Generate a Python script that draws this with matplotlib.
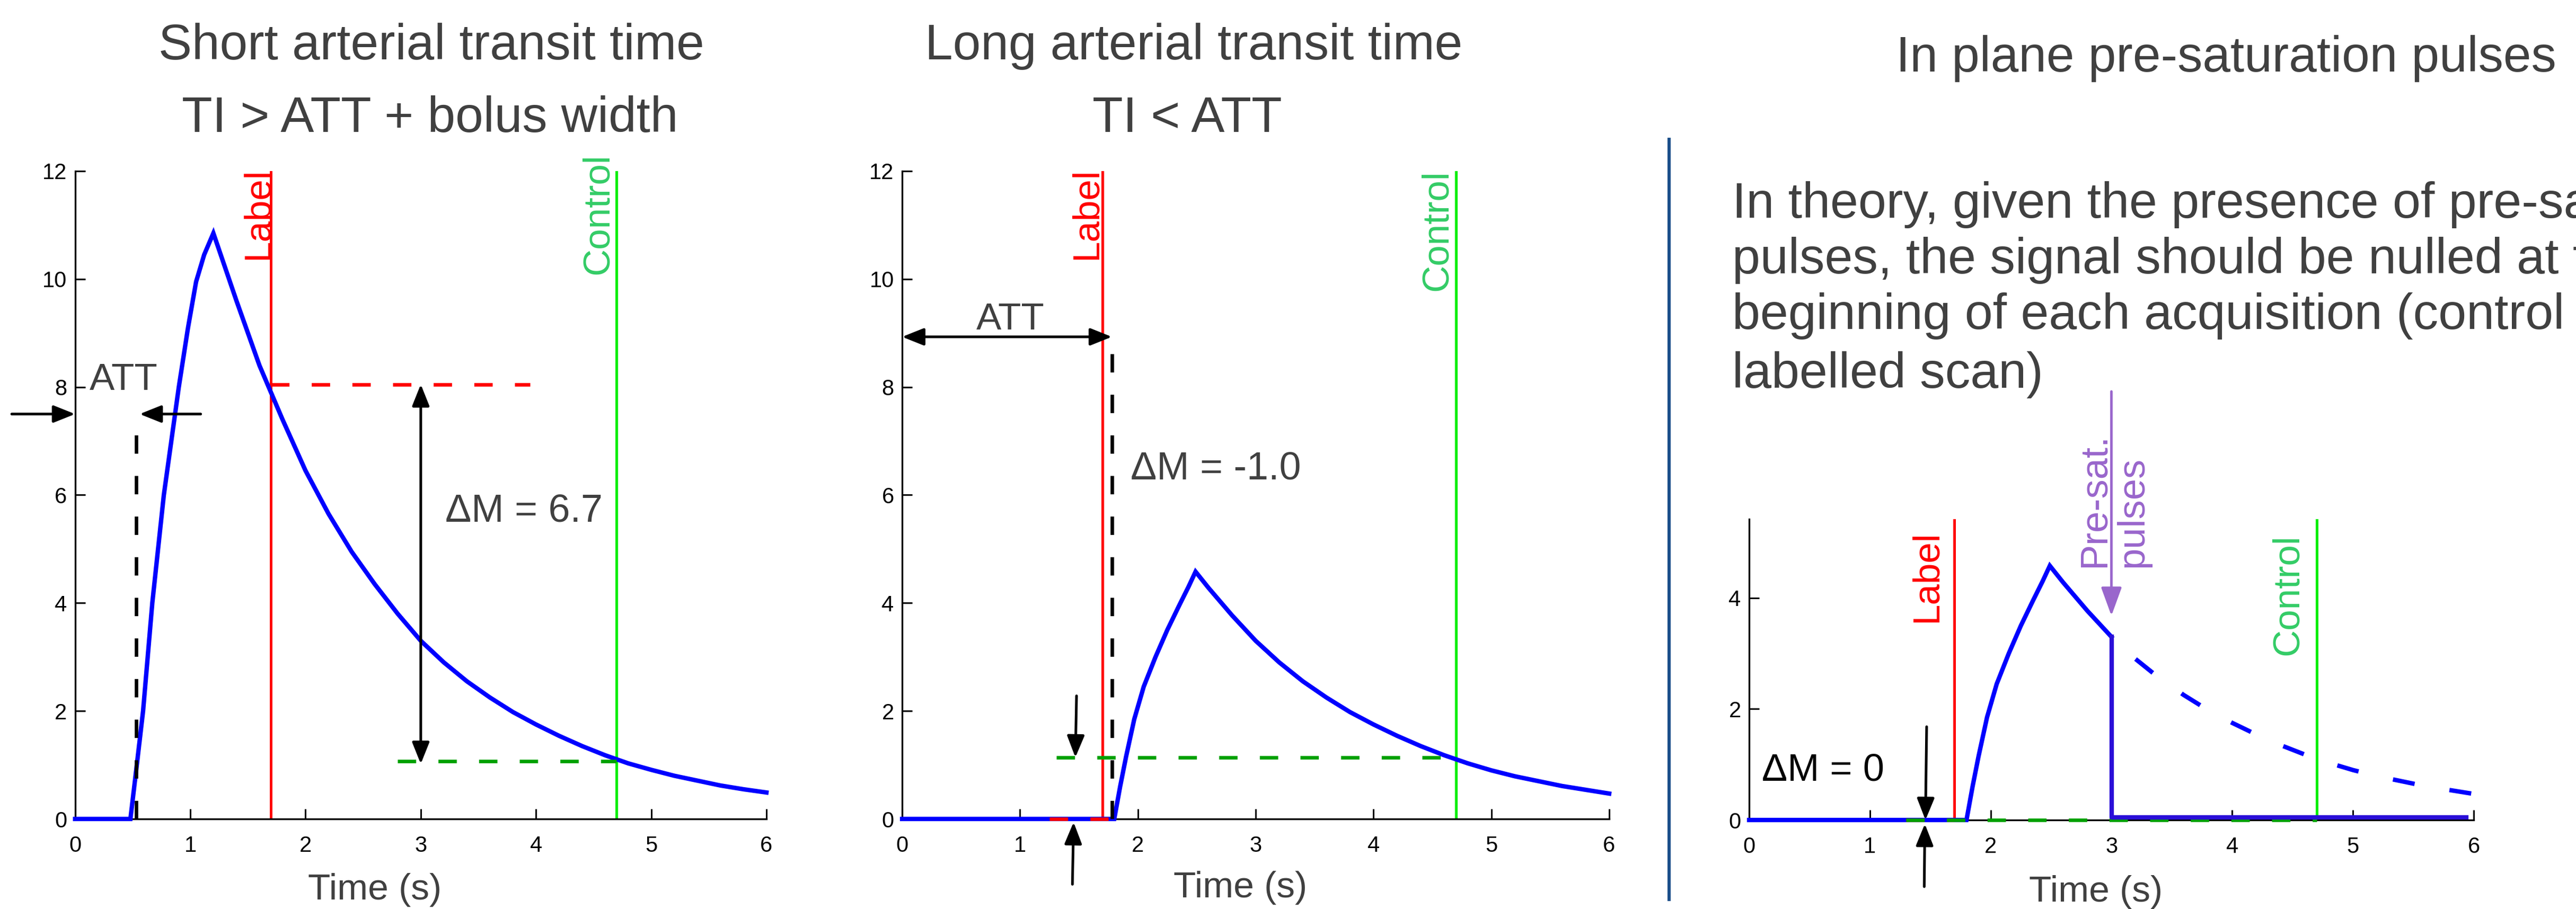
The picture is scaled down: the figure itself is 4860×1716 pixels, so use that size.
import matplotlib
matplotlib.use("Agg")
import matplotlib.pyplot as plt
from matplotlib.lines import Line2D

plt.rcParams['font.family'] = ['Liberation Sans', 'DejaVu Sans']

# ---------------- data ----------------
# Panel 1: short arterial transit time
t_short = [0, 0.48, 0.53, 0.59, 0.67, 0.77, 0.90, 0.98, 1.05, 1.12, 1.20,
           1.4, 1.6, 1.8, 2.0, 2.2, 2.4, 2.6, 2.8, 3.0, 3.2, 3.4, 3.6, 3.8,
           4.0, 4.2, 4.4, 4.6, 4.8, 5.0, 5.2, 5.4, 5.6, 5.8, 6.0]
s_short = [0, 0, 0.9, 2.0, 4.0, 6.0, 8.0, 9.1, 9.95, 10.45, 10.85,
           9.6, 8.4, 7.4, 6.45, 5.65, 4.95, 4.35, 3.8, 3.3, 2.9, 2.55, 2.25, 1.98,
           1.75, 1.54, 1.35, 1.18, 1.03, 0.91, 0.80, 0.71, 0.62, 0.55, 0.49]

# Panel 2: long arterial transit time
t_long = [0, 1.80, 1.85, 1.90, 1.97, 2.05, 2.15, 2.25, 2.35, 2.43, 2.49,
          2.6, 2.8, 3.0, 3.2, 3.4, 3.6, 3.8, 4.0, 4.2, 4.4, 4.6, 4.8,
          5.0, 5.2, 5.4, 5.6, 5.8, 6.0]
s_long = [0, 0, 0.6, 1.15, 1.85, 2.45, 3.0, 3.5, 3.95, 4.3, 4.58,
          4.28, 3.77, 3.3, 2.9, 2.55, 2.25, 1.98, 1.75, 1.54, 1.35, 1.18, 1.03,
          0.9, 0.79, 0.7, 0.61, 0.54, 0.47]

# Panel 3: with in-plane pre-saturation pulses
t_sat = [0, 1.80, 1.85, 1.90, 1.97, 2.05, 2.15, 2.25, 2.35, 2.43, 2.49, 2.6, 2.8, 3.0]
s_sat = [0, 0, 0.6, 1.15, 1.85, 2.45, 3.0, 3.5, 3.95, 4.3, 4.58, 4.28, 3.77, 3.3]
t_nulled = [3.0, 3.0, 5.94]
s_nulled = [3.3, 0.05, 0.05]
t_unsat = [3.2, 3.4, 3.6, 3.8, 4.0, 4.2, 4.4, 4.6, 4.8, 5.0, 5.2, 5.4, 5.6, 5.8, 6.0]
s_unsat = [2.9, 2.55, 2.25, 1.98, 1.75, 1.54, 1.35, 1.18, 1.03, 0.9, 0.79, 0.7, 0.61, 0.54, 0.47]

label_t = 1.7
control_t = 4.7
presat_t = 3.0
att_short = 0.53
att_long = 1.78

p1_label_level = 8.05
p1_control_level = 1.07
p1_label_dash_x = [1.7, 3.95]
p1_control_dash_x = [2.8, 4.7]
p2_control_level = 1.14
p2_control_dash_x = [1.31, 4.65]
p2_label_dash_x = [1.25, 1.75]
p3_control_dash_x = [1.3, 4.7]
p3_label_dash_x = [1.3, 1.7]

x_ticks = [0, 1, 2, 3, 4, 5, 6]
y_ticks_big = [0, 2, 4, 6, 8, 10, 12]
y_ticks_small = [0, 2, 4]

titles_left = ["Short arterial transit time", "TI > ATT + bolus width"]
titles_mid = ["Long arterial transit time", "TI < ATT"]
title_right = "In plane pre-saturation pulses"
paragraph = ["In theory, given the presence of pre-saturation",
             "pulses, the signal should be nulled at the",
             "beginning of each acquisition (control and",
             "labelled scan)"]

# ---------------- styling ----------------
W, H = 4860, 1716
GRAY = '#404040'
BLUE = '#0000FF'
RED = '#FF0000'
GREEN_LINE = '#00EE00'
GREEN_TEXT = '#33CC66'
GREEN_DASH = '#00A000'
PURPLE = '#9966CC'
DASH = (0, (5.2, 6.3))
DLW = 4.8
BLW = 6.0
TICKFONT = ['Liberation Sans Narrow', 'Liberation Sans']


def px_axes(l, r, t, b):
    return [l / W, 1 - b / H, (r - l) / W, (b - t) / H]


fig = plt.figure(figsize=(W / 100, H / 100), dpi=100)
ax1 = fig.add_axes(px_axes(141.7, 1446, 323, 1546))
ax2 = fig.add_axes(px_axes(1702, 3036, 323, 1546))
ax3 = fig.add_axes(px_axes(3300, 4667, 980, 1548))


def style(ax, ylim, yticks, xlabel_x, xlabel_y):
    ax.set_xlim(0, 6)
    ax.set_ylim(*ylim)
    ax.set_xticks(x_ticks)
    ax.set_yticks(yticks)
    for s in ['top', 'right']:
        ax.spines[s].set_visible(False)
    for s in ['left', 'bottom']:
        ax.spines[s].set_linewidth(2.4)
    ax.tick_params(direction='in', length=14, width=2.2, labelsize=30)
    ax.tick_params(axis='x', pad=22)
    ax.tick_params(axis='y', pad=11)
    for lab in ax.get_xticklabels() + ax.get_yticklabels():
        lab.set_fontfamily(TICKFONT)
    ax.set_xlabel('Time (s)', fontsize=50, color=GRAY)
    ax.xaxis.label.set_va('baseline')
    ax.xaxis.set_label_coords(xlabel_x / 6, xlabel_y)


style(ax1, (0, 12), y_ticks_big, 2.6, -0.1243)
style(ax2, (0, 12), y_ticks_big, 2.87, -0.121)
style(ax3, (0, 5.42), y_ticks_small, 2.87, -0.271)

arrow1 = dict(arrowstyle='-|>,head_length=0.5,head_width=0.2', mutation_scale=50,
              color='black', lw=3.6, shrinkA=0, shrinkB=0)
arrow2 = dict(arrowstyle='<|-|>,head_length=0.5,head_width=0.2', mutation_scale=50,
              color='black', lw=3.6, shrinkA=0, shrinkB=0)

# ---------------- panel 1 ----------------
ax = ax1
ax.axvline(label_t, color=RED, lw=3.6, zorder=2)
ax.axvline(control_t, color=GREEN_LINE, lw=3.6, zorder=2)
ax.plot(t_short, s_short, color=BLUE, lw=BLW, zorder=3, clip_on=False, solid_joinstyle='miter')
ax.plot(p1_label_dash_x, [p1_label_level] * 2, color=RED, lw=DLW, linestyle=DASH, zorder=3)
ax.plot(p1_control_dash_x, [p1_control_level] * 2, color=GREEN_DASH, lw=DLW, linestyle=DASH, zorder=3)
ax.plot([att_short, att_short], [0, 7.5], color='black', lw=DLW, linestyle=DASH, zorder=4)
ax.annotate('', xy=(0, 7.5), xytext=(-0.55, 7.5), arrowprops=arrow1, annotation_clip=False)
ax.annotate('', xy=(att_short + 0.03, 7.5), xytext=(1.09, 7.5), arrowprops=arrow1, annotation_clip=False)
ax.annotate('', xy=(3.0, p1_label_level), xytext=(3.0, p1_control_level - 0.05),
            arrowprops=arrow2, annotation_clip=False)
ax.text(0.42, 7.95, 'ATT', ha='center', va='baseline', fontsize=51, color=GRAY)
ax.text(3.21, 5.5, 'ΔM = 6.7', ha='left', va='baseline', fontsize=53, color=GRAY)
ax.text(1.672, 12.06, 'Label', rotation=90, rotation_mode='anchor', ha='right',
        va='baseline', fontsize=51, color=RED, clip_on=False)
ax.text(4.626, 12.33, 'Control', rotation=90, rotation_mode='anchor', ha='right',
        va='baseline', fontsize=51, color=GREEN_TEXT, clip_on=False)

# ---------------- panel 2 ----------------
ax = ax2
ax.axvline(label_t, color=RED, lw=3.6, zorder=2)
ax.axvline(control_t, color=GREEN_LINE, lw=3.6, zorder=2)
ax.plot(t_long, s_long, color=BLUE, lw=BLW, zorder=3, clip_on=False, solid_joinstyle='miter')
ax.plot(p2_label_dash_x, [0, 0], color=RED, lw=DLW, linestyle=DASH, zorder=3.5, clip_on=False)
ax.plot(p2_control_dash_x, [p2_control_level] * 2, color=GREEN_DASH, lw=DLW, linestyle=DASH, zorder=3)
ax.plot([att_long, att_long], [0, 8.93], color='black', lw=DLW, linestyle=DASH, zorder=4)
ax.annotate('', xy=(0, 8.93), xytext=(att_long, 8.93), arrowprops=arrow2, annotation_clip=False)
ax.annotate('', xy=(1.47, p2_control_level), xytext=(1.48, 2.28), arrowprops=arrow1, annotation_clip=False)
ax.annotate('', xy=(1.455, -0.06), xytext=(1.445, -1.21), arrowprops=arrow1, annotation_clip=False)
ax.text(0.917, 9.07, 'ATT', ha='center', va='baseline', fontsize=51, color=GRAY)
ax.text(1.94, 6.28, 'ΔM = -1.0', ha='left', va='baseline', fontsize=53, color=GRAY)
ax.text(1.651, 12.06, 'Label', rotation=90, rotation_mode='anchor', ha='right',
        va='baseline', fontsize=51, color=RED, clip_on=False)
ax.text(4.624, 12.03, 'Control', rotation=90, rotation_mode='anchor', ha='right',
        va='baseline', fontsize=51, color=GREEN_TEXT, clip_on=False)

# ---------------- panel 3 ----------------
ax = ax3
ax.axvline(label_t, color=RED, lw=3.6, zorder=2)
ax.axvline(control_t, color=GREEN_LINE, lw=3.6, zorder=2)
ax.plot(t_sat, s_sat, color=BLUE, lw=BLW, zorder=3, clip_on=False, solid_joinstyle='miter')
ax.plot(t_unsat, s_unsat, color=BLUE, lw=BLW, linestyle=(0, (5.0, 8.0)), zorder=3)
ax.plot(p3_label_dash_x, [0, 0], color=RED, lw=DLW, linestyle=DASH, zorder=3.4, clip_on=False)
ax.plot(p3_control_dash_x, [0, 0], color=GREEN_DASH, lw=DLW, linestyle=DASH, zorder=3.5, clip_on=False)
ax.plot(t_nulled, s_nulled, color='#2A0FD8', lw=BLW, zorder=4, clip_on=False)
ax.annotate('', xy=(presat_t, 3.68), xytext=(presat_t, 7.72),
            arrowprops=dict(arrowstyle='-|>,head_length=0.66,head_width=0.24', mutation_scale=50,
                            color=PURPLE, lw=3.4, shrinkA=0, shrinkB=0),
            annotation_clip=False)
ax.text(presat_t + 0.02, 4.55, 'Pre-sat.\npulses', rotation=90, ha='center', va='bottom',
        multialignment='left', linespacing=1.1, fontsize=52, color=PURPLE, clip_on=False)
ax.annotate('', xy=(1.46, 0.0), xytext=(1.47, 1.68), arrowprops=arrow1, annotation_clip=False)
ax.annotate('', xy=(1.455, -0.07), xytext=(1.45, -1.2), arrowprops=arrow1, annotation_clip=False)
ax.text(0.105, 0.707, 'ΔM = 0', ha='left', va='baseline', fontsize=52, color='black')
ax.text(1.554, 5.215, 'Label', rotation=90, rotation_mode='anchor', ha='right',
        va='baseline', fontsize=51, color=RED, clip_on=False)
ax.text(4.544, 5.15, 'Control', rotation=90, rotation_mode='anchor', ha='right',
        va='baseline', fontsize=51, color=GREEN_TEXT, clip_on=False)

# ---------------- figure texts ----------------
fig.text(814 / W, 1 - 112 / H, titles_left[0], ha='center', va='baseline', fontsize=68, color=GRAY)
fig.text(811 / W, 1 - 249 / H, titles_left[1], ha='center', va='baseline', fontsize=68, color=GRAY)
fig.text(2252 / W, 1 - 112 / H, titles_mid[0], ha='center', va='baseline', fontsize=68, color=GRAY)
fig.text(2240 / W, 1 - 249 / H, titles_mid[1], ha='center', va='baseline', fontsize=68, color=GRAY)
fig.text(3577 / W, 1 - 135 / H, title_right, ha='left', va='baseline', fontsize=68, color=GRAY)
# the reference crops this paragraph at the right edge of the picture
for line, base in zip(paragraph, [411, 516, 621, 732]):
    fig.text(3268 / W, 1 - base / H, line, ha='left', va='baseline', fontsize=68.5, color=GRAY)

fig.add_artist(Line2D([3149 / W, 3149 / W], [1 - 263 / H, 1 - 1698 / H],
                      transform=fig.transFigure, color='#1B4F8A', lw=4.3))

fig.savefig('out.png', dpi=100, facecolor='white')
